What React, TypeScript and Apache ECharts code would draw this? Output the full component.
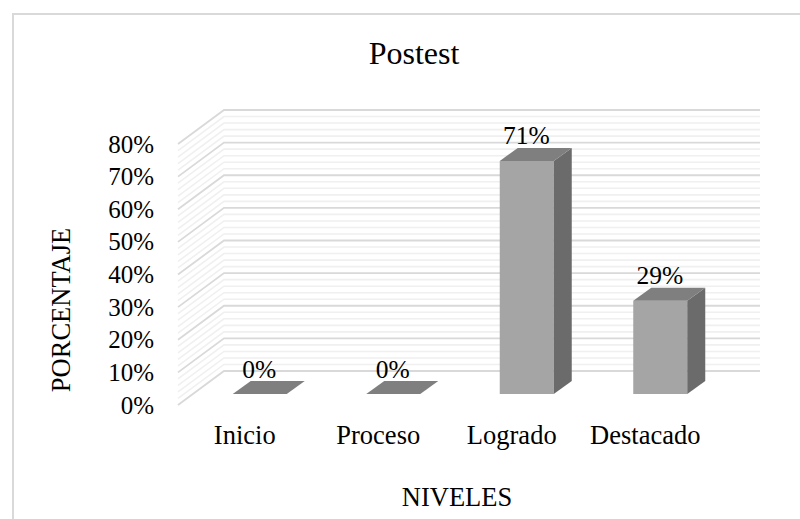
import React, { useEffect, useRef } from "react";
import * as echarts from "echarts";

const categories = ["Inicio", "Proceso", "Logrado", "Destacado"];
const percentages = [0, 0, 71.43, 28.57];
const percentLabels = ["0%", "0%", "71%", "29%"];
const wallLevels = [0, 2, 4, 6, 8, 10, 12, 14, 16, 18, 20, 22, 24, 26, 28, 30, 32, 34, 36, 38, 40, 42, 44, 46, 48, 50, 52, 54, 56, 58, 60, 62, 64, 66, 68, 70, 72, 74, 76, 78, 80];

const FONT = "'Liberation Serif', 'Times New Roman', serif";
const WALL_DX = 46;
const WALL_DY = 34;
const BAR_SHIFT_X = 15;
const BAR_SHIFT_Y = 11;
const BAR_W = 54;
const BAR_DX = 18;
const BAR_DY = 13;

function renderWall(params: any, api: any) {
  const v = api.value(1);
  const p = api.coord([0, v]);
  const left = params.coordSys.x;
  const right = left + params.coordSys.width + WALL_DX + 2;
  const major = v % 10 === 0;
  return {
    type: "polyline",
    silent: true,
    shape: { points: [[left, p[1]], [left + WALL_DX, p[1] - WALL_DY], [right, p[1] - WALL_DY]] },
    style: { fill: "none", stroke: major ? "#d9d9d9" : "#f0f0f0", lineWidth: major ? 1.8 : 1.6 },
  };
}

function renderBar(_params: any, api: any) {
  const i = api.value(0);
  const base = api.coord([i, 0]);
  const top = api.coord([i, api.value(1)]);
  const x0 = base[0] + BAR_SHIFT_X - BAR_W / 2;
  const x1 = x0 + BAR_W;
  const yb = base[1] - BAR_SHIFT_Y;
  const yt = top[1] - BAR_SHIFT_Y;
  const poly = (points: number[][], fill: string) => ({ type: "polygon", shape: { points }, style: { fill } });
  return {
    type: "group",
    children: [
      poly([[x0, yb], [x1, yb], [x1, yt], [x0, yt]], "#a5a5a5"),
      poly([[x1, yb], [x1 + BAR_DX, yb - BAR_DY], [x1 + BAR_DX, yt - BAR_DY], [x1, yt]], "#6b6b6b"),
      poly([[x0, yt], [x1, yt], [x1 + BAR_DX, yt - BAR_DY], [x0 + BAR_DX, yt - BAR_DY]], "#7f7f7f"),
      {
        type: "text",
        style: {
          x: base[0] + BAR_SHIFT_X - 0.5,
          y: yt - BAR_DY + 1,
          text: percentLabels[i],
          align: "center",
          verticalAlign: "bottom",
          font: `25.5px ${FONT}`,
          fill: "#000",
        },
      },
    ],
  };
}

export default function App() {
  const ref = useRef<HTMLDivElement>(null);
  useEffect(() => {
    const chart = echarts.init(ref.current!, undefined, { renderer: "svg" });
    chart.setOption({
      animation: false,
      backgroundColor: "#fff",
      title: {
        text: "Postest",
        left: 409,
        top: 32,
        textAlign: "center",
        textStyle: { fontFamily: FONT, fontSize: 32, fontWeight: "normal", color: "#000" },
      },
      grid: { left: 178, top: 144, width: 534, height: 261 },
      xAxis: {
        type: "category",
        data: categories,
        axisLine: { show: false },
        axisTick: { show: false },
        axisLabel: { fontFamily: FONT, fontSize: 26.5, color: "#000", margin: 16, interval: 0, hideOverlap: false },
      },
      yAxis: {
        type: "value",
        min: 0,
        max: 80,
        interval: 10,
        splitLine: { show: false },
        axisLine: { show: false },
        axisTick: { show: false },
        axisLabel: { fontFamily: FONT, fontSize: 25, color: "#000", margin: 24, formatter: "{value}%" },
      },
      graphic: [
        { type: "rect", silent: true, z: 100, shape: { x: 13, y: 14, width: 800, height: 520 }, style: { fill: "none", stroke: "#d9d9d9", lineWidth: 2 } },
        { type: "text", z: 100, style: { x: 457, y: 497, text: "NIVELES", align: "center", verticalAlign: "middle", font: `26.5px ${FONT}`, fill: "#000" } },
        { type: "text", z: 100, x: 61, y: 310, rotation: Math.PI / 2, style: { text: "PORCENTAJE", align: "center", verticalAlign: "middle", font: `26.5px ${FONT}`, fill: "#000" } },
      ],
      series: [
        { type: "custom", z: 1, silent: true, clip: false, data: wallLevels.map((v) => [0, v]), renderItem: renderWall, encode: { x: 0, y: 1 } },
        { type: "custom", z: 2, silent: true, clip: false, data: percentages.map((v, i) => [i, v]), renderItem: renderBar, encode: { x: 0, y: 1 } },
      ],
    });
    return () => chart.dispose();
  }, []);
  return <div ref={ref} style={{ position: "absolute", left: 0, top: 0, width: 800, height: 519 }} />;
}
